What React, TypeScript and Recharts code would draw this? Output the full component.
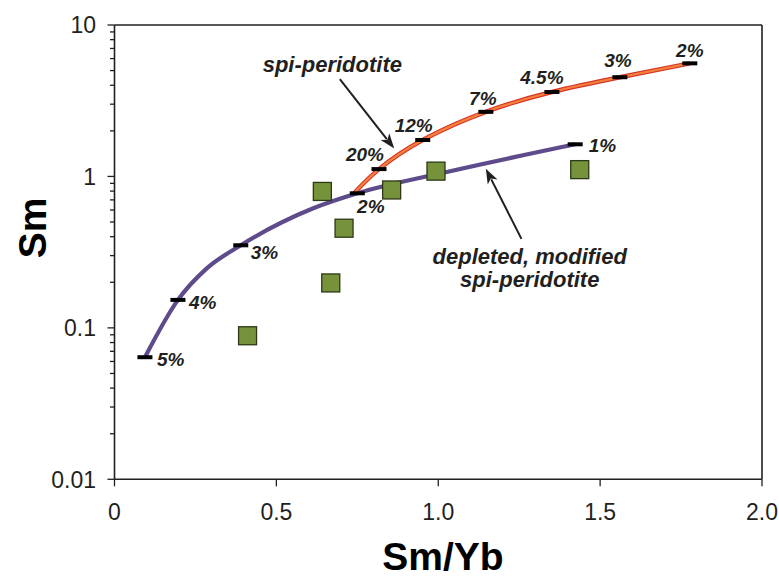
import React from "react";
import {
  ComposedChart,
  Line,
  Scatter,
  XAxis,
  YAxis,
  ReferenceLine,
} from "recharts";

// ---- data ----
// depleted, modified spi-peridotite melting curve
const purpleCurveX = [0.094, 0.196, 0.285, 0.39, 0.614, 0.75, 1.026, 1.423];
const purpleCurveY = [0.064, 0.153, 0.247, 0.351, 0.616, 0.774, 1.07, 1.63];
// melting-degree marks on that curve
const purpleX = [0.094, 0.196, 0.39, 0.75, 1.423];
const purpleY = [0.064, 0.153, 0.351, 0.774, 1.63];
const purpleLabels = ["5%", "4%", "3%", "2%", "1%"];

const orangeX = [0.74, 0.817, 0.952, 1.147, 1.351, 1.561, 1.777];
const orangeY = [0.775, 1.118, 1.74, 2.67, 3.61, 4.52, 5.58];
const orangeLabels = ["", "20%", "12%", "7%", "4.5%", "3%", "2%"];

const sampleX = [0.411, 0.642, 0.668, 0.709, 0.856, 0.993, 1.437];
const sampleY = [0.0887, 0.796, 0.198, 0.455, 0.814, 1.084, 1.109];

const xTicks = [0, 0.5, 1, 1.5, 2];
const yMajor = [0.01, 0.1, 1, 10];
const yTicks = [
  0.01, 0.02, 0.03, 0.04, 0.05, 0.06, 0.07, 0.08, 0.09,
  0.1, 0.2, 0.3, 0.4, 0.5, 0.6, 0.7, 0.8, 0.9,
  1, 2, 3, 4, 5, 6, 7, 8, 9, 10,
];

// annotation arrows (tail -> tip, data coords)
const arrow1 = [{ x: 0.696, y: 4.39 }, { x: 0.864, y: 1.53 }];
const arrow2 = [{ x: 1.257, y: 0.387 }, { x: 1.147, y: 1.125 }];

// ---- built tables ----
const purpleCurve = purpleCurveX.map((x, i) => ({ x, y: purpleCurveY[i] }));
const purpleData = purpleX.map((x, i) => ({ x, y: purpleY[i], label: purpleLabels[i] }));
const orangeData = orangeX.map((x, i) => ({ x, y: orangeY[i], label: orangeLabels[i] }));
const orangeDashes = orangeData.filter((d) => d.label !== "");
const samples = sampleX.map((x, i) => ({ x, y: sampleY[i] }));

// ---- styles ----
const FONT = "'Liberation Sans', Arial, sans-serif";
const INK = "#231f20";
const AXIS_X = 114.5;
const AXIS_Y = 479.3;

// label offsets (style) relative to dash centre
const purpleOffsets: Record<string, [number, number, string]> = {
  "5%": [12, 9, "start"],
  "4%": [11, 9, "start"],
  "3%": [10, 13.5, "start"],
  "2%": [13.5, 20, "middle"],
  "1%": [13.5, 8, "start"],
};
const orangeOffsets: Record<string, [number, number, string]> = {
  "20%": [-14, -8, "middle"],
  "12%": [-9, -8, "middle"],
  "7%": [-3, -7, "middle"],
  "4.5%": [-10, -8, "middle"],
  "3%": [-2, -10, "middle"],
  "2%": [0, -6.5, "middle"],
};

const makeDash = (offsets: Record<string, [number, number, string]>) => (p: any) => {
  const { cx, cy, payload } = p;
  if (cx == null || cy == null) return <g />;
  const off = offsets[payload.label] || [12, 8, "start"];
  return (
    <g>
      <rect x={cx - 7.5} y={cy - 2} width={15} height={4} fill="#000" />
      <text
        x={cx + off[0]}
        y={cy + off[1]}
        textAnchor={off[2] as any}
        fontFamily={FONT}
        fontSize={19}
        fontWeight="bold"
        fontStyle="italic"
        fill={INK}
      >
        {payload.label}
      </text>
    </g>
  );
};

const SquareShape = (p: any) => {
  const { cx, cy } = p;
  if (cx == null || cy == null) return <g />;
  return (
    <rect
      x={cx - 9}
      y={cy - 9}
      width={18}
      height={18}
      fill="#76933c"
      stroke="#2c3816"
      strokeWidth={1.3}
    />
  );
};

const makeArrow = (lines: { text: string; dx: number; dy: number }[]) => (p: any) => {
  const { x1, y1, x2, y2 } = p;
  if (x1 == null) return <g />;
  const dx = x2 - x1;
  const dy = y2 - y1;
  const len = Math.sqrt(dx * dx + dy * dy);
  const ux = dx / len;
  const uy = dy / len;
  const hl = 15;
  const hw = 5.5;
  const bx = x2 - ux * hl;
  const by = y2 - uy * hl;
  const nx = -uy;
  const ny = ux;
  return (
    <g>
      <line x1={x1} y1={y1} x2={bx + ux * 3} y2={by + uy * 3} stroke={INK} strokeWidth={2} />
      <polygon
        points={`${x2},${y2} ${bx + nx * hw},${by + ny * hw} ${bx + ux * 4},${by + uy * 4} ${bx - nx * hw},${by - ny * hw}`}
        fill={INK}
      />
      {lines.map((l, i) => (
        <text
          key={i}
          x={x1 + l.dx}
          y={y1 + l.dy}
          textAnchor="middle"
          fontFamily={FONT}
          fontSize={22}
          fontWeight="bold"
          fontStyle="italic"
          fill={INK}
        >
          {l.text}
        </text>
      ))}
    </g>
  );
};

const YTick = (p: any) => {
  const v = p.payload.value;
  const y = p.y;
  const major = yMajor.includes(v);
  return (
    <g>
      <line x1={major ? 107.5 : 110} x2={AXIS_X} y1={y} y2={y} stroke={INK} strokeWidth={1.3} />
      {major && (
        <text x={96} y={y} dy="0.36em" textAnchor="end" fontFamily={FONT} fontSize={23} fill={INK}>
          {String(v)}
        </text>
      )}
    </g>
  );
};

const XTick = (p: any) => {
  const v = p.payload.value;
  const x = p.x;
  return (
    <g>
      <line x1={x} x2={x} y1={AXIS_Y} y2={AXIS_Y + 7} stroke={INK} strokeWidth={1.3} />
      <text x={x} y={519.5} textAnchor="middle" fontFamily={FONT} fontSize={23} fill={INK}>
        {v === 0 ? "0" : v.toFixed(1)}
      </text>
    </g>
  );
};

export default function App() {
  return (
    <div style={{ position: "absolute", left: 0, top: 0, width: 779, height: 577, background: "#fff" }}>
      <ComposedChart
        width={779}
        height={577}
        margin={{ top: 25, right: 17, bottom: 0, left: 0 }}
      >
        <XAxis
          dataKey="x"
          type="number"
          domain={[0, 2]}
          ticks={xTicks}
          allowDataOverflow
          height={97.7}
          tickLine={false}
          tick={<XTick />}
          axisLine={{ stroke: INK, strokeWidth: 1.6 }}
          label={{
            content: () => (
              <text x={443} y={570} textAnchor="middle" fontFamily={FONT} fontSize={39} fontWeight="bold" fill="#000">
                Sm/Yb
              </text>
            ),
          }}
        />
        <YAxis
          dataKey="y"
          type="number"
          scale="log"
          domain={[0.01, 10]}
          ticks={yTicks}
          allowDataOverflow
          width={AXIS_X}
          tickLine={false}
          tick={<YTick />}
          interval={0}
          axisLine={{ stroke: INK, strokeWidth: 1.6 }}
          label={{
            content: () => (
              <text
                x={46}
                y={228}
                textAnchor="middle"
                transform="rotate(-90, 46, 228)"
                fontFamily={FONT}
                fontSize={39}
                fontWeight="bold"
                fill="#000"
              >
                Sm
              </text>
            ),
          }}
        />
        <ReferenceLine y={10} stroke={INK} strokeWidth={1.6} />
        <ReferenceLine x={2} stroke={INK} strokeWidth={1.6} />

        <Line
          data={purpleCurve}
          dataKey="y"
          type="monotone"
          stroke="#5e4b8c"
          strokeWidth={4.2}
          dot={false}
          activeDot={false}
          isAnimationActive={false}
        />
        <Line
          data={orangeData}
          dataKey="y"
          type="natural"
          stroke="#d6352a"
          strokeWidth={4.4}
          dot={false}
          activeDot={false}
          isAnimationActive={false}
        />
        <Line
          data={orangeData}
          dataKey="y"
          type="natural"
          stroke="#f3813a"
          strokeWidth={2.2}
          dot={false}
          activeDot={false}
          isAnimationActive={false}
        />

        <ReferenceLine
          segment={arrow1}
          ifOverflow="visible"
          shape={makeArrow([{ text: "spi-peridotite", dx: -7.5, dy: -7.3 }])}
        />
        <ReferenceLine
          segment={arrow2}
          ifOverflow="visible"
          shape={makeArrow([
            { text: "depleted, modified", dx: 8.3, dy: 25.2 },
            { text: "spi-peridotite", dx: 8.3, dy: 48 },
          ])}
        />

        <Scatter data={samples} dataKey="y" shape={SquareShape} isAnimationActive={false} />
        <Scatter data={purpleData} dataKey="y" shape={makeDash(purpleOffsets)} isAnimationActive={false} />
        <Scatter data={orangeDashes} dataKey="y" shape={makeDash(orangeOffsets)} isAnimationActive={false} />
      </ComposedChart>
    </div>
  );
}
